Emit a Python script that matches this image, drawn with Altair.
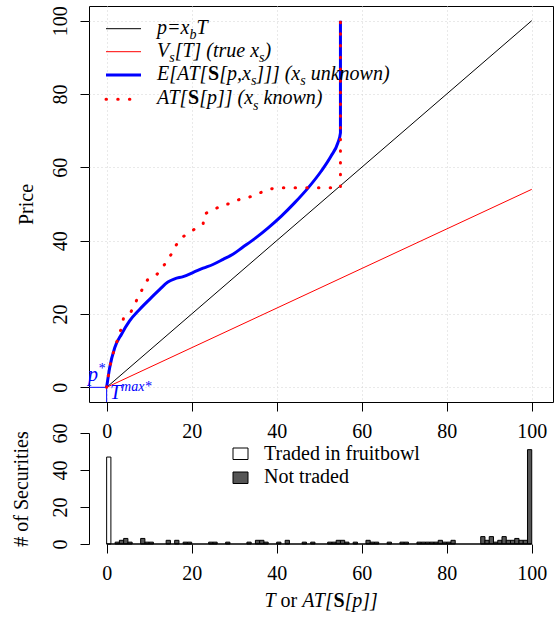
import altair as alt
import pandas as pd

FONT = "Liberation Serif"
FS = 20

# ---------------- data ----------------
line_xb_T = [0, 100]
line_xb_p = [0, 100]
line_vs_T = [0, 100]
line_vs_V = [0, 54]

exp_at = [0, 0.7, 1.9, 3.5, 5.4, 7.8, 10.1, 12.5, 14.4, 16.0, 18.0, 20.3, 22.7, 25.0,
          27.4, 29.7, 32.0, 35.0, 38.0, 41.1, 44.2, 47.4, 50.5, 52.8, 54.4, 55.0, 55.0]
exp_price = [0, 5.3, 10.8, 14.5, 18.1, 21.3, 24.0, 26.7, 28.7, 29.6, 30.2, 31.3, 32.5, 33.5,
             34.9, 36.3, 38.2, 40.7, 43.5, 46.7, 50.3, 54.4, 59.0, 63.1, 66.7, 69.4, 100]

known_at = [0, 0.7, 1.6, 2.7, 3.5, 4.0, 5.6, 6.6, 7.5, 8.6, 9.6, 11.5, 12.9, 14.0, 15.2,
            16.2, 17.3, 19.1, 20.9, 22.7, 23.0, 25.0, 27.0, 29.3, 31.3, 33.6, 35.6, 37.8,
            39.9, 55.0, 55.0]
known_price = [0, 5.5, 9.5, 13.5, 16.3, 19.0, 20.3, 22.6, 24.9, 27.2, 29.3, 30.4, 32.2, 34.2,
               36.3, 38.5, 40.6, 41.9, 43.3, 44.6, 47.3, 48.3, 49.6, 50.2, 51.3, 51.9, 52.8,
               53.9, 54.4, 54.4, 100]

traded_bin = [0]
traded_count = [47]
not_traded_bin = [2, 3, 4, 5, 8, 9, 10, 14, 16, 18, 19, 24, 25, 28, 33, 35, 36, 37, 40, 42,
                  46, 48, 52, 53, 54, 55, 56, 58, 61, 62, 63, 66, 69, 70, 73, 74, 75, 76, 77,
                  78, 79, 80, 81, 88, 89, 90, 91, 92, 93, 94, 95, 96, 97, 98, 99]
not_traded_count = [1, 2, 3, 1, 3, 1, 1, 2, 2, 1, 1, 1, 1, 1, 1, 2, 2, 1, 1, 2,
                    1, 1, 1, 1, 2, 2, 1, 1, 2, 1, 1, 1, 1, 1, 1, 1, 1, 1, 1,
                    2, 1, 1, 2, 4, 2, 4, 1, 2, 4, 2, 2, 3, 2, 2, 51]

axis_ticks = [0, 20, 40, 60, 80, 100]
hist_ticks = [0, 20, 40, 60]

legend_top = [
    [("p=x", "i"), ("b", "sub"), ("T", "i")],
    [("V", "i"), ("s", "sub"), ("[T] (true x", "i"), ("s", "sub"), (")", "i")],
    [("E[AT[", "i"), ("S", "b"), ("[p,x", "i"), ("s", "sub"), ("]]] (x", "i"), ("s", "sub"), (" unknown)", "i")],
    [("AT[", "i"), ("S", "b"), ("[p]] (x", "i"), ("s", "sub"), (" known)", "i")],
]
legend_bottom = ["Traded in fruitbowl", "Not traded"]
xtitle_bottom = [("T", "i"), (" or ", "r"), ("AT[", "i"), ("S", "b"), ("[p]]", "i")]
pstar_label = [("p", "i"), ("*", "sup")]
tmax_label = [("T", "i"), ("max*", "sup")]

# ---------------- layout ----------------
X0, TOP_Y0 = 88, 5
W, H1, GAP, H2 = 464, 396, 31, 111
BOT_Y0 = TOP_Y0 + H1 + GAP
XDOM = [-4.15, 105.0]

W_I = {' ': 250, '(': 333, ')': 333, '*': 500, ',': 250, '=': 675, '[': 389, ']': 389,
       'A': 611, 'E': 611, 'T': 556, 'V': 611, 'a': 500, 'b': 500, 'e': 444, 'k': 444,
       'm': 722, 'n': 500, 'o': 500, 'p': 500, 'r': 389, 's': 389, 't': 278, 'u': 500,
       'w': 667, 'x': 444}
W_B = {'S': 556}
W_R = {' ': 250, 'o': 500, 'r': 333}


def tw(s, kind, size):
    table = W_B if kind == "b" else (W_R if kind == "r" else W_I)
    return sum(table.get(c, 500) for c in s) * size / 1000.0


def layout(segs, x0, y0, size, color, ox, oy):
    rows = []
    x = x0
    for s, kind in segs:
        if kind == "sub":
            sz, dy = size * 0.7, size * 0.27
        elif kind == "sup":
            sz, dy = size * 0.7, -size * 0.42
        else:
            sz, dy = size, 0
        lead = len(s) - len(s.lstrip(" "))
        rows.append(dict(px=x + tw(" " * lead, kind, sz) - ox, py=y0 + dy - oy,
                         text=s.strip(" "), kind=kind, fs=round(sz, 2), color=color))
        x += tw(s, kind, sz)
    return rows


def text_layers(rows):
    df = pd.DataFrame(rows)
    out = []
    for (kind, color, fs), g in df.groupby(["kind", "color", "fs"]):
        st = dict(font=FONT, fontSize=float(fs), color=color, align="left", baseline="alphabetic")
        if kind == "b":
            st["fontWeight"] = "bold"
        elif kind != "r":
            st["fontStyle"] = "italic"
        out.append(alt.Chart(g.reset_index(drop=True)).mark_text(**st).encode(
            x=alt.X("px:Q", scale=None, axis=None),
            y=alt.Y("py:Q", scale=None, axis=None),
            text="text:N"))
    return out


one = pd.DataFrame({"k": [0]})


def rule_px(x1, x2, y, **style):
    return alt.Chart(one).mark_rule(**style).encode(
        x=alt.value(x1), x2=alt.value(x2), y=alt.value(y))


def rect_px(x1, x2, y1, y2, **style):
    return alt.Chart(one).mark_rect(**style).encode(
        x=alt.value(x1), x2=alt.value(x2), y=alt.value(y1), y2=alt.value(y2))


lab = dict(labelFont=FONT, labelFontSize=FS, labelColor="black")

# ---------------- top panel ----------------
xs = alt.Scale(domain=XDOM, nice=False, zero=False)
ys = alt.Scale(domain=[-4, 104], nice=False, zero=False)
grid_style = dict(grid=True, gridColor="#d3d3d3", gridDash=[1, 3], gridWidth=1)
ax_x = alt.Axis(values=axis_ticks, title=None, domain=False, tickSize=9, labelPadding=10,
                labelFlush=False, labelOverlap=False, **grid_style, **lab)
ax_y = alt.Axis(values=axis_ticks, title="Price", domain=False, tickSize=9, labelPadding=14,
                labelAngle=270, labelAlign="center", labelBaseline="alphabetic",
                labelFlush=False, labelOverlap=False,
                titleAngle=270, titleAlign="center", titleBaseline="middle",
                titleX=-63, titleY=H1 / 2, **grid_style, **lab)

df_xb = pd.DataFrame({"T": line_xb_T, "p": line_xb_p})
df_vs = pd.DataFrame({"T": line_vs_T, "p": line_vs_V})
df_exp = pd.DataFrame({"T": exp_at, "p": exp_price, "i": range(len(exp_at))})
df_known = pd.DataFrame({"T": known_at, "p": known_price, "i": range(len(known_at))})


def enc(ch, order=False):
    e = dict(x=alt.X("T:Q", scale=xs, axis=ax_x), y=alt.Y("p:Q", scale=ys, axis=ax_y))
    if order:
        e["order"] = alt.Order("i:Q")
    return ch.encode(**e)


l_xb = enc(alt.Chart(df_xb).mark_line(color="black", strokeWidth=1))
l_vs = enc(alt.Chart(df_vs).mark_line(color="#ff0000", strokeWidth=1))
l_exp = enc(alt.Chart(df_exp).mark_line(color="#0000ff", strokeWidth=3, strokeJoin="round",
                                        interpolate="monotone"), True)
l_known = enc(alt.Chart(df_known).mark_line(color="#ff0000", strokeWidth=3, strokeCap="round",
                                            strokeDash=[0.5, 11.2]), True)

df_ph = pd.DataFrame({"T": [XDOM[0]], "T2": [0], "p": [0]})
l_ph = alt.Chart(df_ph).mark_rule(color="#0000ff", strokeWidth=1).encode(
    x=alt.X("T:Q", scale=xs, axis=ax_x), x2="T2:Q", y=alt.Y("p:Q", scale=ys, axis=ax_y))
df_tv = pd.DataFrame({"T": [0], "p": [-4], "p2": [0]})
l_tv = alt.Chart(df_tv).mark_rule(color="#0000ff", strokeWidth=1).encode(
    x=alt.X("T:Q", scale=xs, axis=ax_x), y=alt.Y("p:Q", scale=ys, axis=ax_y), y2="p2:Q")

row_c = [27.7, 50.7, 74.0, 98.3]
leg_styles = [dict(color="black", strokeWidth=1), dict(color="#ff0000", strokeWidth=1),
              dict(color="#0000ff", strokeWidth=3),
              dict(color="#ff0000", strokeWidth=3, strokeCap="round", strokeDash=[0.5, 11.2])]
leg_rules = [rule_px(105 - X0, 140 - X0, c - TOP_Y0, **s) for c, s in zip(row_c, leg_styles)]

top_rows = []
for segs, c in zip(legend_top, row_c):
    top_rows += layout(segs, 156, c + 5, FS, "black", X0, TOP_Y0)
top_rows += layout(pstar_label, 87, 380, FS, "#0000ff", X0, TOP_Y0)
top_rows += layout(tmax_label, 109, 398, FS, "#0000ff", X0, TOP_Y0)

top = alt.layer(l_xb, l_vs, l_exp, l_ph, l_tv, l_known, *leg_rules, *text_layers(top_rows)).properties(
    width=W, height=H1, view=alt.ViewBackground(stroke="black", strokeWidth=1))

# ---------------- bottom panel ----------------
xs2 = alt.Scale(domain=XDOM, nice=False, zero=False)
ys2 = alt.Scale(domain=[0, 60], nice=False, zero=False)
ax_x2 = alt.Axis(values=axis_ticks, title=None, domain=False, grid=False, tickSize=9,
                 labelPadding=10, labelFlush=False, labelOverlap=False, **lab)
ax_y2 = alt.Axis(values=hist_ticks, title="# of Securities", domain=True, grid=False, tickSize=9,
                 labelPadding=14, labelAngle=270, labelAlign="center", labelBaseline="alphabetic",
                 labelFlush=False, labelOverlap=False,
                 titleAngle=270, titleAlign="center", titleBaseline="middle",
                 titleX=-68, titleY=H2 / 2, **lab)

df_tr = pd.DataFrame({"b0": traded_bin, "cnt": traded_count})
df_tr["b1"] = df_tr["b0"] + 1
df_nt = pd.DataFrame({"b0": not_traded_bin, "cnt": not_traded_count})
df_nt["b1"] = df_nt["b0"] + 1


def bars(df, fill):
    return alt.Chart(df).mark_rect(fill=fill, stroke="black", strokeWidth=1).encode(
        x=alt.X("b0:Q", scale=xs2, axis=ax_x2), x2="b1:Q",
        y=alt.Y("cnt:Q", scale=ys2, axis=ax_y2), y2=alt.datum(0))


df_base = pd.DataFrame({"b0": [0], "b1": [100], "cnt": [0]})
l_base = alt.Chart(df_base).mark_rule(color="black", strokeWidth=1.5).encode(
    x=alt.X("b0:Q", scale=xs2, axis=ax_x2), x2="b1:Q", y=alt.Y("cnt:Q", scale=ys2, axis=ax_y2))

leg_sq = [rect_px(232 - X0, 247 - X0, 447 - BOT_Y0, 458.5 - BOT_Y0, fill="white", stroke="black", strokeWidth=1),
          rect_px(232 - X0, 247 - X0, 471 - BOT_Y0, 482.5 - BOT_Y0, fill="#555555", stroke="black", strokeWidth=1)]

bot_rows = []
for lab_txt, b in zip(legend_bottom, [458.6, 482.3]):
    bot_rows += layout([(lab_txt, "r")], 263, b, FS, "black", X0, BOT_Y0)
bot_rows += layout(xtitle_bottom, 263.5, 606, FS, "black", X0, BOT_Y0)

bottom = alt.layer(bars(df_tr, "white"), bars(df_nt, "#555555"), l_base, *leg_sq,
                   *text_layers(bot_rows)).properties(width=W, height=H2)

chart = alt.vconcat(top, bottom, spacing=GAP, bounds="flush").properties(
    padding={"left": 10, "top": 5, "right": 2, "bottom": 5}, background="white"
).configure_view(stroke="transparent").configure_axis(
    labelFont=FONT, titleFont=FONT, labelFontSize=FS, titleFontSize=FS,
    labelColor="black", titleColor="black", tickColor="black", domainColor="black",
    titleFontWeight="normal", tickWidth=1, domainWidth=1)

chart.save("out.html", embed_options={"renderer": "svg", "actions": False})
